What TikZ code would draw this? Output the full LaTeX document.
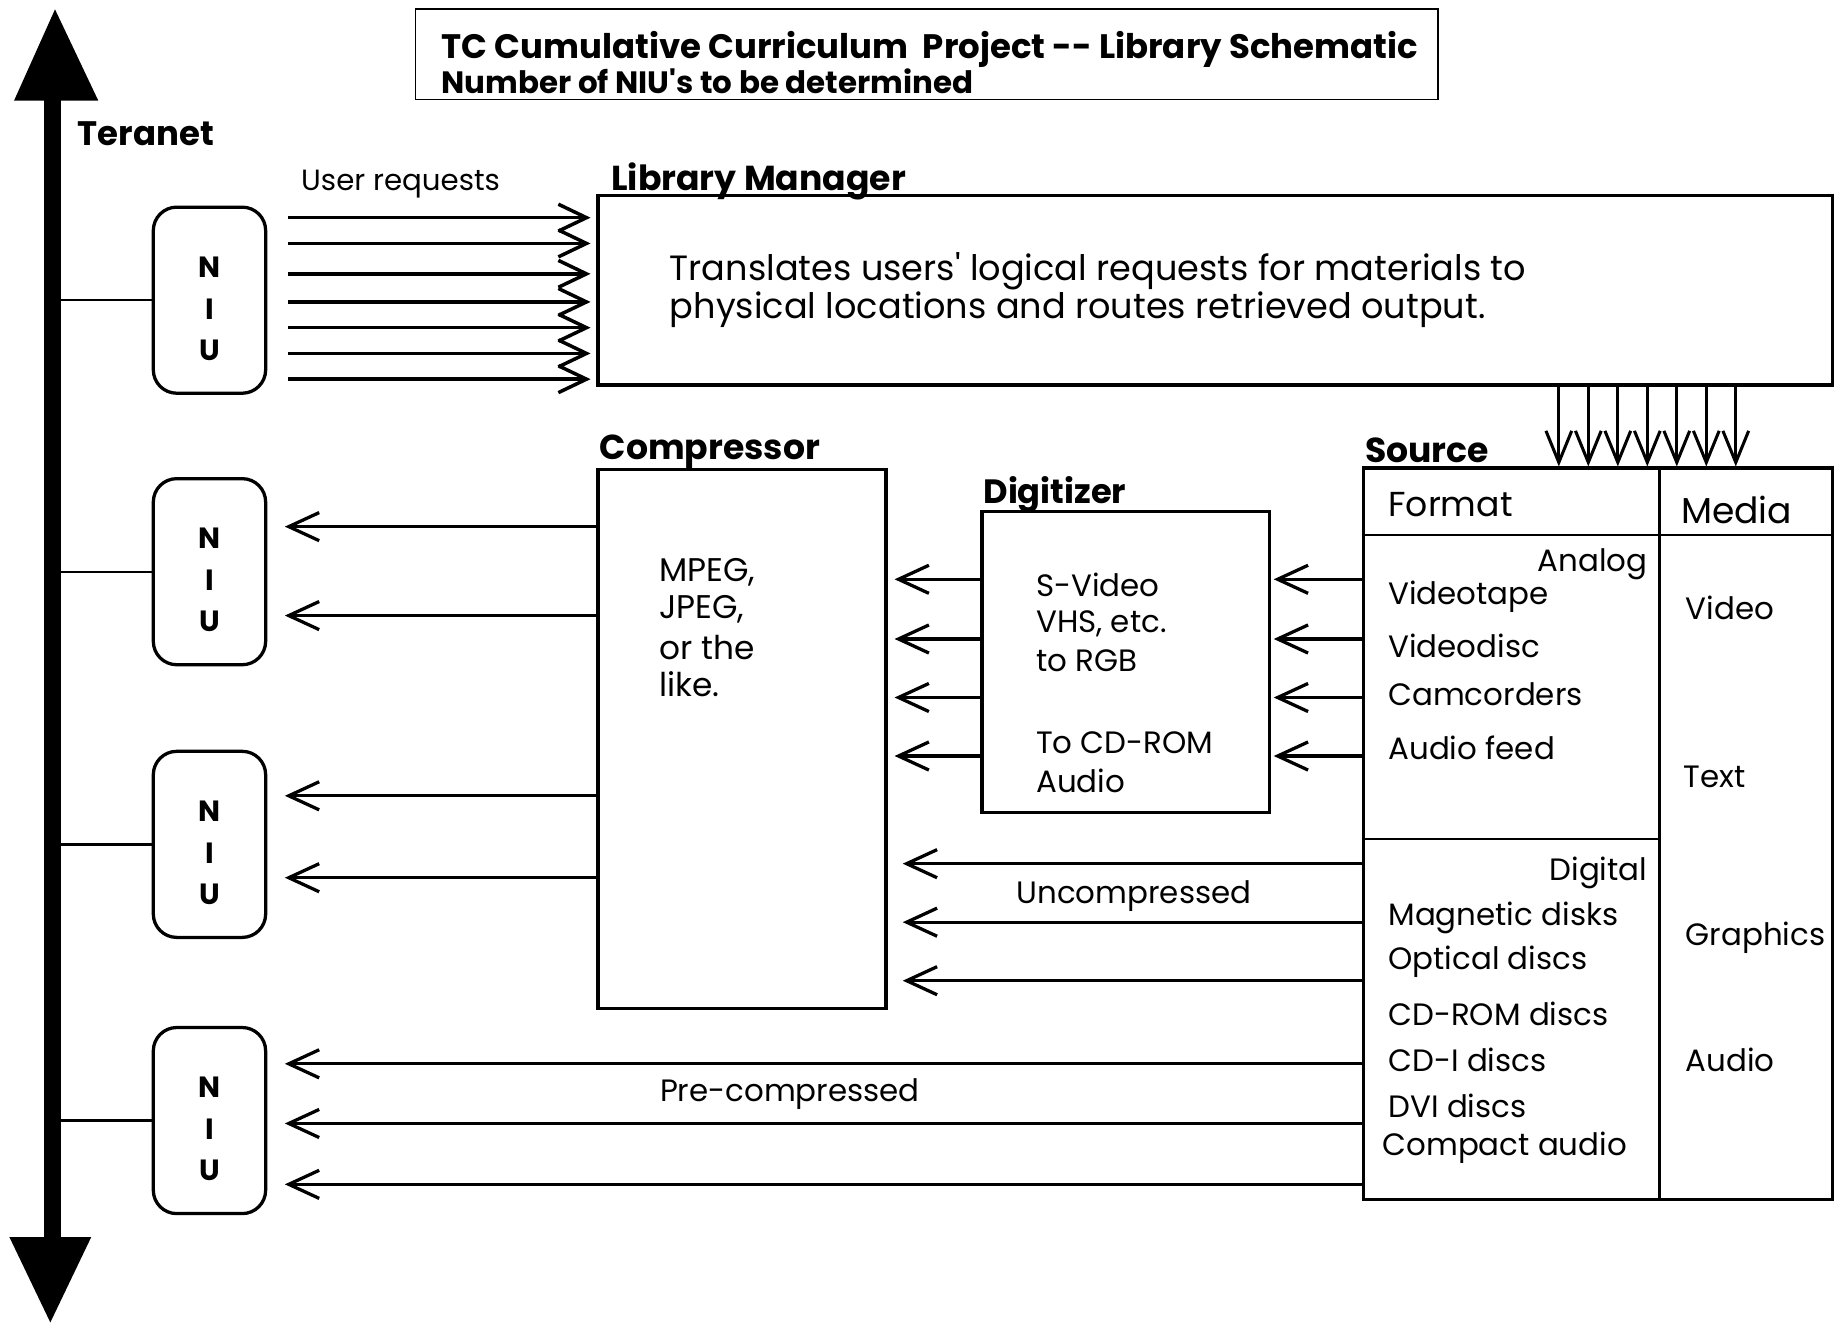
\documentclass[tikz,border=0pt]{standalone}
\usepackage{fontspec}
\setmainfont{Poppins}[Ligatures=TeXOff]
\usetikzlibrary{arrows.meta,fit,calc}
\begin{document}
\begin{tikzpicture}[x=0.5pt,y=-0.5pt,
  box/.style={draw,line width=1.4pt,inner sep=0pt},
  niubox/.style={draw,line width=1.4pt,rounded corners=10pt,inner sep=0pt},
  arr/.style={line width=1.4pt,-{Straight Barb[length=13pt,width=12pt]}},
  reqarr/.style={line width=1.5pt,-{Straight Barb[length=12pt,width=11.5pt]}},
  downarr/.style={line width=1.3pt,-{Straight Barb[length=13.5pt,width=11pt]}},
  link/.style={line width=1pt},
  txt/.style={inner sep=0pt,anchor=west,yshift=-1.5pt,font=\fontsize{13.2}{15}\selectfont},
  hdr/.style={inner sep=0pt,anchor=west,yshift=-1.5pt,font=\bfseries\fontsize{14.8}{16}\selectfont},
  niulet/.style={inner sep=0pt,font=\bfseries\fontsize{12.5}{14}\selectfont}
]
\useasboundingbox (0,0) rectangle (1568,1130);

% Teranet backbone
\coordinate (tnTop) at (47,8);
\coordinate (tnBot) at (43,1130);
\coordinate (shaft) at (45,0);
\fill (38,84) rectangle (52,1060);
\fill (tnTop) -- (84,86) -- (12,86) -- cycle;
\fill (tnBot) -- (8,1057) -- (78,1057) -- cycle;
\node[hdr,font=\bfseries\fontsize{14.5}{16}\selectfont,yshift=0.5pt] (teranet) at (66,112) {Teranet};

% Title
\node[draw,line width=0.8pt,inner sep=0pt,fit={(355,8)(1229,85)}] (title) {};
\node[hdr,font=\bfseries\fontsize{14.5}{16}\selectfont] (t1) at (377,39) {TC Cumulative Curriculum\ \ Project -\kern0pt- Library Schematic};
\node[hdr,font=\bfseries\fontsize{13.2}{14}\selectfont] (t2) at (377,66) {Number of NIU's to be determined};

% NIU boxes
\foreach \i/\tp/\bt in {1/177/336,2/409/568,3/642/801,4/878/1037}{
  \node[niubox,fit={(131,\tp)(227,\bt)}] (n\i) {};
  \node[niulet] (n\i a) at ($(n\i.center)+(0,-28.5)$) {N};
  \node[niulet] (n\i b) at ($(n\i.center)+(0,7.5)$) {I};
  \node[niulet] (n\i c) at ($(n\i.center)+(0,42.5)$) {U};
  \draw[link] (n\i.west -| shaft) -- (n\i.west);
}

% Library manager
\node[box,fit={(511,167)(1566,329)}] (lm) {};
\node[hdr] (lmlbl) at (522,152) {Library Manager};
\node[txt,font=\fontsize{15}{17}\selectfont] (lmt1) at (572,229) {Translates users' logical requests for materials to};
\node[txt,font=\fontsize{15}{17}\selectfont] (lmt2) at (572,262) {physical locations and routes retrieved output.};
\node[txt,font=\fontsize{12.5}{15}\selectfont] (ureq) at (257,154) {User requests};
\foreach \y in {186,208,234,258,280,302,324}{
  \draw[reqarr] ($(n1.east |- 0,\y)+(18,0)$) -- ($(lm.west |- 0,\y)+(-5,0)$);
}

% Compressor
\node[box,fit={(511,401)(757,862)}] (comp) {};
\node[hdr] (complbl) at (512,383) {Compressor};
\node[txt,font=\fontsize{14}{16}\selectfont] (c1) at (563,486) {MPEG,};
\node[txt,font=\fontsize{14}{16}\selectfont] (c2) at (563,518) {JPEG,};
\node[txt,font=\fontsize{14}{16}\selectfont] (c3) at (563,550) {or the};
\node[txt,font=\fontsize{14}{16}\selectfont] (c4) at (563,582) {like.};

% Digitizer
\node[box,fit={(839,437)(1085,694)}] (dig) {};
\node[hdr,font=\bfseries\fontsize{14.4}{16}\selectfont] (diglbl) at (840,420) {Digitizer};
\node[txt] (d1) at (885,497) {S-Video};
\node[txt] (d2) at (885,530) {VHS, etc.};
\node[txt] (d3) at (885,562) {to RGB};
\node[txt] (d4) at (885,632) {To CD-ROM};
\node[txt] (d5) at (885,664) {Audio};

% Source
\node[box,fit={(1165,400)(1566,1025)}] (src) {};
\node[hdr] (srclbl) at (1166,382) {Source};
\coordinate (divx) at (1418,0);
\draw[link] (src.north -| divx) -- (src.south -| divx);
\draw[link] (src.west |- 0,457) -- (src.east |- 0,457);
\draw[link] (src.west |- 0,717) -- (divx |- 0,717);
\node[txt,font=\fontsize{14.8}{16}\selectfont] (fmt) at (1186,428) {Format};
\node[txt,font=\fontsize{15.4}{16}\selectfont] (med) at (1436,433) {Media};
\node[txt,anchor=east] (ana) at (1408,479) {Analog};
\node[txt] (s1) at (1186,507) {Videotape};
\node[txt] (s2) at (1186,549) {Videodisc};
\node[txt] (s3) at (1186,590) {Camcorders};
\node[txt] (s4) at (1186,636) {Audio feed};
\node[txt,anchor=east] (digi) at (1408,743) {Digital};
\node[txt] (s5) at (1186,781) {Magnetic disks};
\node[txt] (s6) at (1186,819) {Optical discs};
\node[txt] (s7) at (1186,863) {CD-ROM discs};
\node[txt] (s8) at (1186,903) {CD-I discs};
\node[txt] (s9) at (1186,942) {DVI discs};
\node[txt] (s10) at (1181,978) {Compact audio};
\node[txt] (m1) at (1440,516) {Video};
\node[txt] (m2) at (1438,661) {Text};
\node[txt] (m3) at (1440,798) {Graphics};
\node[txt] (m4) at (1440,903) {Audio};

% LM -> Source
\foreach \k in {0,...,6}{
  \draw[downarr] (lm.south -| {1332+25.2*\k},0) -- (src.north -| {1332+25.2*\k},0);
}

% Source -> Digitizer -> Compressor
\foreach \y in {495,546,596,646}{
  \draw[arr] (src.west |- 0,\y) -- ($(dig.east |- 0,\y)+(2,0)$);
  \draw[arr] (dig.west |- 0,\y) -- ($(comp.east |- 0,\y)+(6,0)$);
}
% Compressor -> NIUs
\draw[arr] (comp.west |- 0,450) -- ($(n2.east |- 0,450)+(15,0)$);
\draw[arr] (comp.west |- 0,526) -- ($(n2.east |- 0,526)+(15,0)$);
\draw[arr] (comp.west |- 0,680) -- ($(n3.east |- 0,680)+(15,0)$);
\draw[arr] (comp.west |- 0,750) -- ($(n3.east |- 0,750)+(15,0)$);

% Uncompressed
\foreach \y in {738,788,838}{
  \draw[arr] (src.west |- 0,\y) -- ($(comp.east |- 0,\y)+(13,0)$);
}
\node[txt,anchor=center] (unc) at (969,763) {Uncompressed};

% Pre-compressed
\foreach \y in {909,960,1012}{
  \draw[arr] (src.west |- 0,\y) -- ($(n4.east |- 0,\y)+(15,0)$);
}
\node[txt,anchor=center] (prec) at (675,932) {Pre-compressed};
\end{tikzpicture}
\end{document}
